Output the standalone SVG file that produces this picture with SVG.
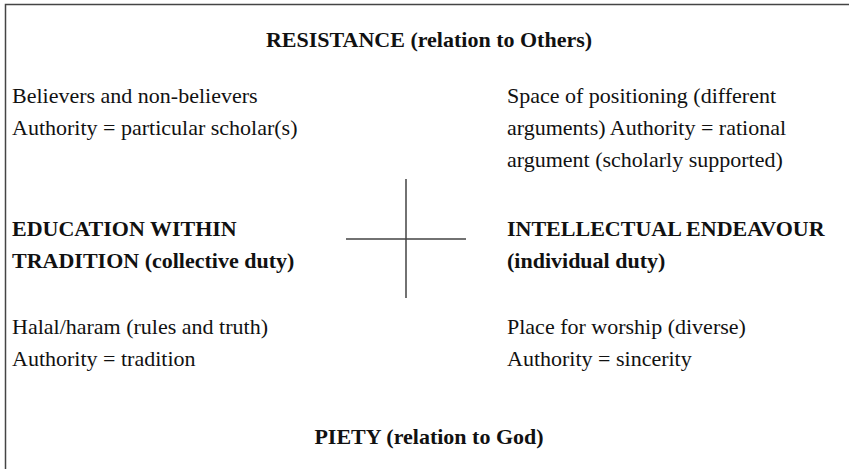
<svg xmlns="http://www.w3.org/2000/svg" width="849" height="469" viewBox="0 0 849 469">
<style>
.t{font-size:22px;fill:#111}
.b{font-weight:bold}
.ln{stroke:#444;stroke-width:1.5;fill:none}
</style>
<rect width="849" height="469" fill="#fff"/>
<g id="frame"><path class="ln" d="M5.5,469 V4.5 H849"/></g>
<g id="connectors"><path class="ln" d="M406,179 V298 M346,239 H466"/></g>
<g font-family="Liberation Serif">
<g id="top"><text class="t b" x="429" y="47" text-anchor="middle">RESISTANCE (relation to Others)</text></g>
<g id="tl"><text class="t" x="12" y="103">Believers and non-believers</text><text class="t" x="12" y="135">Authority = particular scholar(s)</text></g>
<g id="tr"><text class="t" x="507" y="103">Space of positioning (different</text><text class="t" x="507" y="135">arguments) Authority = rational</text><text class="t" x="507" y="167">argument (scholarly supported)</text></g>
<g id="left"><text class="t b" x="12" y="236">EDUCATION WITHIN</text><text class="t b" x="12" y="268">TRADITION (collective duty)</text></g>
<g id="right"><text class="t b" x="507" y="236">INTELLECTUAL ENDEAVOUR</text><text class="t b" x="507" y="268">(individual duty)</text></g>
<g id="bl"><text class="t" x="12" y="334">Halal/haram (rules and truth)</text><text class="t" x="12" y="366">Authority = tradition</text></g>
<g id="br"><text class="t" x="507" y="334">Place for worship (diverse)</text><text class="t" x="507" y="366">Authority = sincerity</text></g>
<g id="bottom"><text class="t b" x="429" y="444" text-anchor="middle">PIETY (relation to God)</text></g>
</g>
</svg>
